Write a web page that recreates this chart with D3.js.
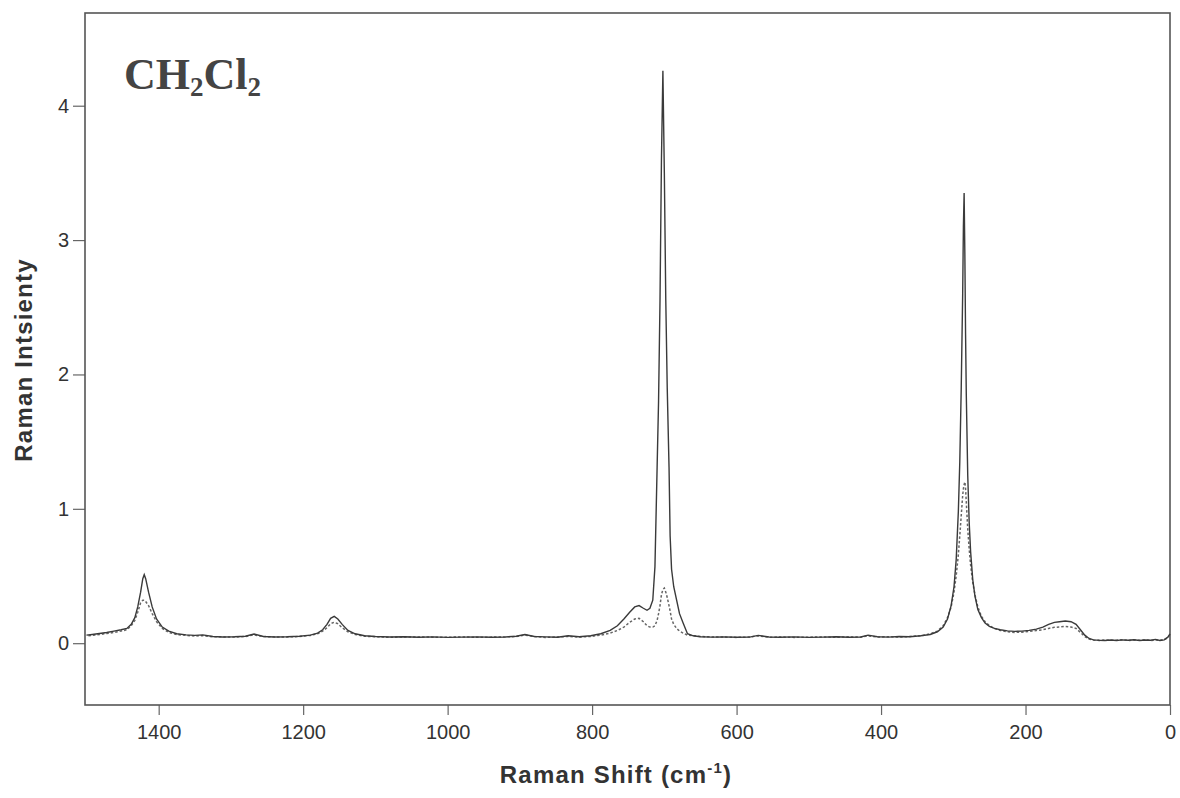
<!DOCTYPE html>
<html>
<head>
<meta charset="utf-8">
<script src="https://cdn.jsdelivr.net/npm/d3@7"></script>
<style>
  html, body { margin: 0; padding: 0; background: #fff; }
  svg { display: block; }
</style>
</head>
<body>
<svg id="chart" width="1180" height="798"></svg>
<script>
// ---- data ----
const ramanShift = [0,3,8,14,20,27,34,42,50,58,66,74,82,90,98,106,112,118,124,130,137,145,153,160,168,176,185,195,205,215,225,235,243,250,256,261,266,270,273,276,278,280,282,283,284,285,286,287,289,291,293,296,299,303,308,314,322,332,345,360,375,390,405,418,428,445,462,480,500,520,540,555,570,582,600,618,635,650,660,668,674,679,683,687,690,692,693.5,696,698,700,702,704,706,708,710,713,716,720,724,729,735,741,748,756,765,775,788,802,818,833,848,865,880,893,905,920,940,960,980,1000,1020,1040,1060,1080,1100,1115,1128,1138,1146,1152,1157,1162,1167,1173,1180,1190,1205,1222,1240,1255,1268,1280,1295,1312,1325,1339,1350,1362,1375,1386,1395,1403,1409,1414,1418,1420,1422,1425,1429,1433,1438,1444,1452,1462,1472,1482,1492,1500];

const solidSeries = [0.07,0.045,0.025,0.02,0.028,0.022,0.024,0.02,0.026,0.022,0.025,0.02,0.024,0.02,0.022,0.025,0.035,0.06,0.1,0.14,0.16,0.165,0.16,0.155,0.14,0.12,0.105,0.095,0.09,0.088,0.092,0.1,0.11,0.125,0.15,0.19,0.25,0.35,0.47,0.68,0.9,1.25,1.85,2.3,2.9,3.35,3.1,2.6,1.9,1.35,0.98,0.62,0.42,0.28,0.18,0.12,0.085,0.065,0.055,0.048,0.05,0.045,0.048,0.06,0.046,0.044,0.048,0.045,0.043,0.047,0.044,0.046,0.058,0.045,0.044,0.047,0.045,0.048,0.055,0.07,0.15,0.22,0.32,0.42,0.55,0.8,1.31,1.9,2.55,3.5,4.26,3.6,2.55,1.8,1.31,0.57,0.32,0.26,0.245,0.26,0.28,0.27,0.23,0.18,0.13,0.095,0.07,0.055,0.048,0.055,0.044,0.047,0.05,0.065,0.052,0.046,0.044,0.047,0.045,0.043,0.047,0.044,0.048,0.046,0.05,0.055,0.07,0.095,0.14,0.18,0.2,0.185,0.14,0.1,0.075,0.06,0.052,0.048,0.046,0.05,0.068,0.052,0.048,0.046,0.05,0.062,0.058,0.062,0.07,0.09,0.12,0.18,0.27,0.38,0.48,0.51,0.48,0.38,0.27,0.19,0.14,0.11,0.1,0.09,0.08,0.072,0.065,0.06];

const dottedSeries = [0.06,0.04,0.028,0.022,0.024,0.02,0.026,0.022,0.024,0.02,0.026,0.022,0.022,0.024,0.02,0.024,0.03,0.05,0.08,0.11,0.12,0.125,0.12,0.118,0.11,0.1,0.095,0.088,0.082,0.08,0.085,0.095,0.11,0.13,0.16,0.2,0.27,0.36,0.45,0.58,0.7,0.85,1.05,1.15,1.2,1.18,1.15,1.1,0.95,0.8,0.66,0.5,0.38,0.27,0.19,0.13,0.09,0.07,0.055,0.05,0.045,0.048,0.046,0.055,0.045,0.047,0.044,0.046,0.045,0.043,0.046,0.044,0.055,0.046,0.043,0.046,0.047,0.05,0.055,0.06,0.075,0.09,0.11,0.14,0.18,0.24,0.28,0.34,0.38,0.41,0.4,0.36,0.28,0.22,0.17,0.13,0.12,0.12,0.13,0.16,0.185,0.18,0.155,0.12,0.095,0.075,0.06,0.05,0.045,0.05,0.046,0.043,0.05,0.06,0.05,0.047,0.045,0.044,0.047,0.044,0.045,0.046,0.047,0.044,0.048,0.052,0.065,0.085,0.115,0.145,0.156,0.145,0.115,0.09,0.07,0.058,0.05,0.046,0.047,0.05,0.062,0.05,0.046,0.047,0.048,0.056,0.054,0.058,0.064,0.08,0.11,0.16,0.22,0.28,0.31,0.32,0.32,0.3,0.23,0.17,0.13,0.1,0.09,0.08,0.072,0.065,0.058,0.055];

const xTicks = [1400, 1200, 1000, 800, 600, 400, 200, 0];
const yTicks = [0, 1, 2, 3, 4];
const xDomain = [1502, 0];
const yDomain = [-0.46, 4.69];

// ---- layout ----
const frame = { left: 85, right: 1170, top: 13, bottom: 705 };
const svg = d3.select("#chart");

const x = d3.scaleLinear().domain(xDomain).range([frame.left, frame.right]);
const y = d3.scaleLinear().domain(yDomain).range([frame.bottom, frame.top]);

// axes
const fmt = d3.format("d");
const xAxis = d3.axisBottom(x).tickValues(xTicks).tickFormat(fmt).tickSize(10).tickPadding(10).tickSizeOuter(0);
const yAxis = d3.axisLeft(y).tickValues(yTicks).tickFormat(fmt).tickSize(12).tickPadding(4).tickSizeOuter(0);

const gx = svg.append("g").attr("transform", `translate(0,${frame.bottom})`).call(xAxis);
const gy = svg.append("g").attr("transform", `translate(${frame.left},0)`).call(yAxis);
[gx, gy].forEach(g => {
  g.select(".domain").remove();
  g.selectAll(".tick line").attr("stroke", "#666").attr("stroke-width", 1.2);
  g.selectAll(".tick text")
    .attr("fill", "#333")
    .style("font-family", "'Liberation Sans', Arial, sans-serif")
    .style("font-size", "20px");
});

// frame
svg.append("rect")
  .attr("x", frame.left).attr("y", frame.top)
  .attr("width", frame.right - frame.left).attr("height", frame.bottom - frame.top)
  .attr("fill", "none").attr("stroke", "#555").attr("stroke-width", 1.6);

// lines
const pts = (ys) => ramanShift.map((v, i) => [v, ys[i]]);
const line = d3.line().x(d => x(d[0])).y(d => y(d[1]));

svg.append("path")
  .datum(pts(dottedSeries))
  .attr("d", line)
  .attr("fill", "none")
  .attr("stroke", "#666")
  .attr("stroke-width", 1.5)
  .attr("stroke-dasharray", "2.5,2");

svg.append("path")
  .datum(pts(solidSeries))
  .attr("d", line)
  .attr("fill", "none")
  .attr("stroke", "#3a3a3a")
  .attr("stroke-width", 1.4);

// title CH2Cl2
const title = svg.append("text")
  .attr("x", 124).attr("y", 89)
  .attr("fill", "#444")
  .style("font-family", "'Liberation Serif', 'Times New Roman', serif")
  .style("font-weight", "bold")
  .style("font-size", "44px");
title.append("tspan").text("CH");
title.append("tspan").attr("dy", 7).style("font-size", "27px").text("2");
title.append("tspan").attr("dy", -7).text("Cl");
title.append("tspan").attr("dy", 7).style("font-size", "27px").text("2");

// axis titles
const xt = svg.append("text")
  .attr("x", 616).attr("y", 783)
  .attr("text-anchor", "middle")
  .attr("fill", "#333")
  .style("font-family", "'Liberation Sans', Arial, sans-serif")
  .style("font-weight", "bold")
  .style("font-size", "24px")
  .style("letter-spacing", "1.2px");
xt.append("tspan").text("Raman Shift (cm");
xt.append("tspan").attr("dy", -10).style("font-size", "15px").text("-1");
xt.append("tspan").attr("dy", 10).text(")");

svg.append("text")
  .attr("transform", "translate(32,360) rotate(-90)")
  .attr("text-anchor", "middle")
  .attr("fill", "#333")
  .style("font-family", "'Liberation Sans', Arial, sans-serif")
  .style("font-weight", "bold")
  .style("font-size", "24px")
  .style("letter-spacing", "1.2px")
  .text("Raman Intsienty");
</script>
</body>
</html>
